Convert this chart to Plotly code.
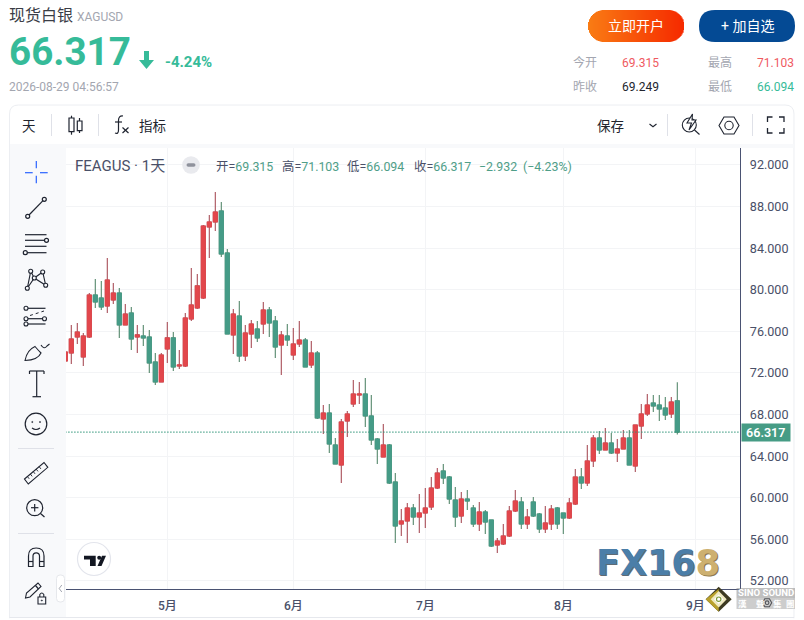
import re, math
import plotly.graph_objects as go

# ---------- data ----------
opens = [73.15,73.92,75.46,73.54,75.46,79.50,79.21,78.44,79.02,79.69,76.62,77.77,75.46,75.56,75.46,73.06,71.14,74.31,75.37,72.67,72.67,77.19,78.25,79.21,86.04,86.52,87.58,83.54,75.66,77.48,73.63,75.75,76.23,76.71,78.06,77.00,74.69,75.56,73.73,74.79,75.17,72.77,73.92,67.58,68.15,65.08,63.15,67.38,69.02,69.88,69.98,67.87,65.65,63.92,65.08,61.52,57.48,57.77,59.02,58.15,58.54,59.12,60.94,62.58,62.00,59.79,58.25,59.88,59.02,57.48,58.64,57.87,55.46,55.56,56.33,58.73,59.60,57.48,59.60,58.44,57.00,57.48,59.02,58.54,58.06,59.40,62.00,61.42,63.54,65.75,64.60,65.27,64.31,64.69,65.75,63.06,66.90,68.06,69.11,68.92,68.63,68.06,69.315]
closes = [74.02,75.27,75.94,75.56,79.50,78.83,78.35,80.94,79.69,76.62,77.67,75.27,75.66,75.37,72.96,71.14,73.73,75.37,72.58,72.77,77.29,78.54,80.37,86.13,86.52,87.48,83.44,75.75,77.67,73.63,75.85,76.71,75.37,78.06,76.81,74.50,75.65,75.17,74.79,75.17,72.58,73.92,67.67,68.15,65.17,63.25,67.29,68.06,69.98,69.98,67.87,65.56,64.69,65.08,61.42,57.29,57.77,59.02,58.15,58.54,59.02,60.94,62.38,61.90,59.88,58.15,59.88,59.69,57.48,58.64,57.67,55.36,55.85,56.33,58.73,59.69,57.48,58.15,58.25,57.00,57.58,58.92,57.48,58.06,59.50,62.00,61.42,63.54,65.75,64.60,65.27,64.31,64.69,65.75,63.15,67.00,68.06,68.92,68.83,68.54,67.96,69.21,66.317]
highs = [74.02,76.62,76.81,75.85,79.69,81.04,80.85,83.06,80.65,80.17,78.63,78.35,76.62,76.62,76.13,73.92,73.92,76.90,75.94,74.21,77.77,82.10,81.52,86.23,87.19,89.40,88.44,83.92,78.15,78.92,76.61,77.10,77.00,78.83,78.35,77.48,76.04,76.71,76.33,77.00,75.37,75.08,74.11,68.92,69.02,65.75,67.58,68.35,71.33,71.13,71.52,69.88,65.75,67.10,65.17,62.38,58.92,59.50,59.40,60.37,60.94,62.00,62.87,63.25,62.10,61.04,60.56,60.75,59.31,59.60,58.83,57.87,56.14,57.48,59.21,60.75,60.08,58.92,60.08,58.54,59.21,59.31,59.12,58.54,59.98,62.77,62.87,65.08,66.04,66.42,66.71,66.23,65.65,66.52,66.52,67.00,69.02,69.98,69.88,69.88,69.69,69.69,71.103]
lows = [73.15,72.87,74.79,72.67,75.37,78.25,78.06,77.77,78.63,75.37,76.62,74.21,73.92,74.60,72.00,70.85,71.14,72.96,72.19,72.39,72.58,77.00,78.15,79.12,83.06,85.66,83.15,75.75,73.83,73.06,73.15,74.40,74.98,75.75,75.46,73.44,71.81,74.60,73.25,74.50,72.58,72.48,67.58,66.13,64.31,63.25,61.42,65.85,68.73,69.02,66.81,65.08,63.25,63.92,61.33,55.65,56.33,55.65,57.39,56.62,57.10,58.83,60.85,61.33,59.40,57.19,57.58,58.83,57.19,56.81,56.52,55.27,54.69,55.46,56.23,58.64,57.00,57.00,58.15,56.62,56.62,56.90,57.00,56.52,57.96,59.31,60.85,61.13,62.96,64.21,64.60,64.21,63.44,64.69,63.15,62.48,65.65,67.87,68.25,67.38,67.48,67.67,66.094]
prev_close = 69.249
change_pct = -4.24
change_abs = -2.932
change_pct_legend = -4.23
timestamp = "2026-08-29 04:56:57"
y_ticks = [92, 88, 84, 80, 76, 72, 68, 64, 60, 56, 52]
month_ticks = [17, 38, 60, 83, 105]
month_labels = ["5月", "6月", "7月", "8月", "9月"]
# --------------------------------------------------

W, H = 804, 620
TXT = "Roboto, 'Noto Sans CJK SC', sans-serif"
RED, GREEN = "#e2474c", "#459b87"
HEAD_GREEN = "#36bb99"
DARK = "#20232e"
LINE = "#1f2430"

def X(v): return v / W
def Y(v): return 1 - v / H

shapes, notes = [], []

def add_path(d, fill="rgba(0,0,0,0)", color="rgba(0,0,0,0)", w=0, layer="above", dash=None):
    toks = d.split()
    out, i = [], 0
    for t in toks:
        if re.fullmatch(r"[A-Za-z]", t):
            out.append(t)
            i = 0
        else:
            out.append(f"{X(float(t)):.6f}" if i % 2 == 0 else f"{Y(float(t)):.6f}")
            i += 1
    ln = dict(color=color, width=w)
    if dash: ln["dash"] = dash
    shapes.append(dict(type="path", xref="paper", yref="paper", path=" ".join(out),
                       fillcolor=fill, line=ln, layer=layer))

def seg(x0, y0, x1, y1, color=LINE, w=1.2, layer="above", dash=None):
    add_path(f"M {x0} {y0} L {x1} {y1}", color=color, w=w, layer=layer, dash=dash)

def rect(x0, y0, x1, y1, fill, color="rgba(0,0,0,0)", w=0, layer="above"):
    shapes.append(dict(type="rect", xref="paper", yref="paper", x0=X(x0), x1=X(x1), y0=Y(y0), y1=Y(y1),
                       fillcolor=fill, line=dict(color=color, width=w), layer=layer))

def circ(cx, cy, r, fill="rgba(0,0,0,0)", color=LINE, w=1.2, layer="above"):
    shapes.append(dict(type="circle", xref="paper", yref="paper", x0=X(cx - r), x1=X(cx + r),
                       y0=Y(cy - r), y1=Y(cy + r), fillcolor=fill, line=dict(color=color, width=w), layer=layer))

def rrect(x0, y0, x1, y1, r, fill, color="rgba(0,0,0,0)", w=0, layer="above"):
    add_path(f"M {x0+r} {y0} L {x1-r} {y0} Q {x1} {y0} {x1} {y0+r} L {x1} {y1-r} Q {x1} {y1} {x1-r} {y1} "
             f"L {x0+r} {y1} Q {x0} {y1} {x0} {y1-r} L {x0} {y0+r} Q {x0} {y0} {x0+r} {y0} Z",
             fill=fill, color=color, w=w, layer=layer)

def text(x, y, s, size=12, color=DARK, anchor="left", weight=400, family=TXT):
    xx = x - 1 if anchor == "left" else x
    notes.append(dict(xref="paper", yref="paper", x=X(xx), y=Y(y), text=s, showarrow=False,
                      xanchor=anchor, yanchor="middle", borderpad=0,
                      font=dict(size=size, color=color, family=family, weight=weight)))

# ---- panel ----
rrect(9.5, 105, 794, 650, 9, "#ffffff", "#eceef2", 1, layer="below")
rect(10, 144, 793.5, 148, "#f8f9fb", layer="below")
rect(10, 148, 66, 617, "#f8f9fb", layer="below")
seg(9.5, 617.6, 794, 617.6, "#e4e6ec", 1, layer="below")
rect(0, 618.2, 804, 620, "#ffffff", layer="above")

# ---- header ----
text(9, 16, "现货白银", 16, "#3a3d46")
text(77, 17, "XAGUSD", 12, "#a3a6b0")
text(9, 52, f"{closes[-1]:.3f}", 38.6, HEAD_GREEN, weight=700)
text(165, 62, f"{change_pct:.2f}%", 15, HEAD_GREEN, weight=700)
text(9, 87, timestamp, 12, "#a3a6b0")
add_path("M 144 51 L 149 51 L 149 60 L 154 60 L 146.5 69 L 139 60 L 144 60 Z", fill=HEAD_GREEN)

# gradient button, built from thin columns
x0b, x1b, rb, ycb = 588, 684, 16, 26
for i in range(x1b - x0b):
    cx = x0b + i + 0.5
    dx = max(x0b + rb - cx, cx - (x1b - rb), 0)
    h = math.sqrt(max(rb * rb - dx * dx, 0))
    t = i / (x1b - x0b - 1)
    col = "rgb(%d,%d,%d)" % (250 - 4 * t, 124 - 82 * t, 20 - 20 * t)
    rect(x0b + i, ycb - h, x0b + i + (1.6 if i < x1b - x0b - 1 else 1), ycb + h, col)
text(636, 26, "立即开户", 14, "#ffffff", "center")
rrect(699, 10, 795, 42, 16, "#044a94")
text(747, 26, "+ 加自选", 14, "#ffffff", "center")

for xa, xb, yy, a, b, cb in [(573, 622, 63, "今开", opens[-1], "#ef5a5f"),
                             (708, 757, 63, "最高", highs[-1], "#ef5a5f"),
                             (573, 622, 87, "昨收", prev_close, "#22252e"),
                             (708, 757, 87, "最低", lows[-1], HEAD_GREEN)]:
    text(xa, yy, a, 12, "#a3a6b0")
    text(xb, yy, f"{b:.3f}", 12, cb)

# ---- top toolbar ----
text(22, 126, "天", 13.5, "#22252e")
text(139, 126, "指标", 13.5, "#22252e")
text(597, 126, "保存", 13.5, "#22252e")
for xs in (51.5, 98.5, 667.5, 752.5):
    seg(xs, 114, xs, 136, "#dfe1e8", 1)
# candle icon
seg(71.5, 115.7, 71.5, 134.7)
rect(69, 118, 74, 131.7, "#ffffff", LINE, 1.2)
seg(79.5, 118, 79.5, 133)
rect(77.3, 121, 82, 130.7, "#ffffff", LINE, 1.2)
# fx icon
add_path("M 123 116 Q 118.5 115.5 118.5 120.5 L 118.5 130 Q 118.5 134.5 115 133", color=LINE, w=1.2)
seg(115, 122, 122, 122)
seg(122.5, 127.5, 128.5, 133)
seg(128.5, 127.5, 122.5, 133)
# chevron
add_path("M 649.5 124 L 653 126.7 L 656.5 124", color=LINE, w=1.1)
# bolt magnifier
circ(689.3, 125, 7, w=1.1)
seg(694.5, 130, 699.5, 134.5, w=1.1)
add_path("M 692.5 114 L 687 123 L 691.5 123 L 689 130 L 696 120 L 692 120 Z", fill="#ffffff", color=LINE, w=1.1)
# hexagon
add_path("M 719 125.5 L 724 117 L 734 117 L 739 125.5 L 734 134 L 724 134 Z", color=LINE, w=1.1)
circ(729, 125.5, 4.2, w=1.1)
# fullscreen
for d in ("M 767.5 122 L 767.5 117 L 772.5 117", "M 779 117 L 784 117 L 784 122",
          "M 767.5 128 L 767.5 133 L 772.5 133", "M 779 133 L 784 133 L 784 128"):
    add_path(d, color=LINE, w=1.3)

# ---- left tool column ----
B = "#2962ff"
seg(25, 172.7, 32.7, 172.7, B, 1.2); seg(40, 172.7, 47.7, 172.7, B, 1.2)
seg(36.3, 161, 36.3, 168.3, B, 1.2); seg(36.3, 175.7, 36.3, 183.3, B, 1.2)
# trend line
seg(29, 215, 43, 200.6); circ(27.7, 216.3, 2); circ(44.3, 199.3, 2)
# parallel
for yy in (234.7, 240.3, 246.3, 252.7):
    seg(25, yy, 46.5, yy)
circ(46.5, 240.3, 2, "#f8f9fb"); circ(25.3, 252.7, 2, "#f8f9fb")
# xabcd
add_path("M 27.3 288.3 L 30.7 271.3 L 34.3 278 L 45.7 285.3 L 42.7 272 L 34.3 278 L 27.3 288.3", color=LINE, w=1.1)
for cx, cy in ((27.3, 288.3), (30.7, 271.3), (34.3, 278), (42.7, 272), (45.7, 285.3)):
    circ(cx, cy, 2, "#f8f9fb", w=1.1)
# fib
seg(27, 308.3, 45.5, 308.3); seg(27, 324, 45.5, 324); seg(27, 318.7, 44, 318.7)
seg(30, 315.5, 44, 311, w=1, dash="dot")
for cx, cy in ((26, 308.3), (26, 318.7), (26, 324), (44.5, 318.7)):
    circ(cx, cy, 2, "#f8f9fb", w=1.1)
# brush
add_path("M 25 360.5 Q 27 350 35 346.5 Q 38 350 41 353 Q 38 360 25 360.5 Z", color=LINE, w=1.1)
add_path("M 41 345 Q 44 350 47 346 L 49.5 344", color=LINE, w=1.1)
# T
seg(29.5, 371, 44, 371); seg(36.7, 371, 36.7, 396.7); seg(32.5, 396.7, 41, 396.7)
seg(29.5, 371, 29.5, 374); seg(44, 371, 44, 374)
# smile
circ(36, 424, 10.8)
circ(32.3, 422, 0.6, LINE, w=0.6); circ(40, 422, 0.6, LINE, w=0.6)
add_path("M 32 428 Q 36 431 40 428", color=LINE, w=1.1)
seg(18, 448.5, 54, 448.5, "#dfe1e8", 1)
# ruler
add_path("M 24.5 479 L 44 462.5 L 47.8 467.3 L 28.3 484 Z", color=LINE, w=1.1)
for a in (0.15, 0.3, 0.45, 0.6, 0.75):
    bx, by = 24.5 + 19.5 * a, 479 - 16.5 * a
    seg(bx, by, bx + 1.8, by + 2.3, w=0.9)
# magnifier
circ(34.7, 507.7, 8)
seg(40.5, 513.5, 44.5, 517)
seg(31, 507.7, 38.4, 507.7); seg(34.7, 504, 34.7, 511.4)
seg(18, 533.5, 54, 533.5, "#dfe1e8", 1)
# magnet
add_path("M 28.5 566.5 L 28.5 556 Q 28.5 548 36.2 548 Q 44 548 44 556 L 44 566.5 L 39.5 566.5 L 39.5 556 "
         "Q 39.5 552.8 36.2 552.8 Q 33 552.8 33 556 L 33 566.5 Z", color=LINE, w=1.2)
seg(28.5, 561.5, 33, 561.5); seg(39.5, 561.5, 44, 561.5)
# pencil + lock
add_path("M 25.5 598 L 26.5 593 L 38 583 L 41 586.5 L 30 597 Z", color=LINE, w=1.1)
seg(35.5, 585.5, 38.5, 589)
rect(38, 597, 45.7, 604, "#f8f9fb", LINE, 1.1)
add_path("M 39.8 597 L 39.8 594.5 Q 41.8 591.5 43.8 594.5 L 43.8 597", color=LINE, w=1.1)
circ(41.8, 600.5, 0.6, LINE, w=0.6)
# collapse handle
rrect(56.5, 575, 64.5, 602, 3.5, "#ffffff", "#e6e8ec", 1)
add_path("M 61.8 585 L 59.2 588.5 L 61.8 592", color="#a3a6b0", w=1)

# ---- chart legend row ----
LEG = "#4a5068"
VAL = "#4f9e88"
text(75, 166, "FEAGUS · 1天", 15, LEG)
circ(191, 165, 8.8, "#e9eaee", "#e9eaee", 0)
rrect(186.5, 163.2, 195.5, 166.8, 1.8, "#8f929c")
for xp, lab, v in [(216, "开", opens[-1]), (281.5, "高", highs[-1]), (347, "低", lows[-1]), (414, "收", closes[-1])]:
    text(xp, 166, f'{lab}=<span style="color:{VAL}">{v:.3f}</span>', 12.4, LEG)
text(478.5, 166, f"−{abs(change_abs):.3f}", 12.4, VAL)
text(522.5, 166, f"(−{abs(change_pct_legend):.2f}%)", 12.4, VAL)

# ---- TradingView badge ----
circ(94, 559, 16.5, "#ffffff", "#e3e5ec", 1.2)
add_path("M 84 555.7 L 95.7 555.7 L 95.7 566 L 90 566 L 90 559.5 L 84 559.5 Z", fill="#131722")
circ(99.2, 557.7, 2, "#131722", "#131722", 0)
add_path("M 97.5 566 L 102 555.7 L 106 555.7 L 101.5 566 Z", fill="#131722")

# ---- watermarks ----
WF = "'DejaVu Sans', sans-serif"
def fx(x, y, c1, c2):
    text(x, y, f'<span style="color:{c1}">FX16</span><span style="color:{c2}">8</span>', 35, c1, weight=700, family=WF)
fx(596.7, 563.7, "#5f6b74", "#8d7a4f")
fx(595.5, 562.5, "#4b7ea8", "#cdb070")
# diamond
add_path("M 718.7 586.7 L 731.7 599.2 L 718.7 611.7 L 705.7 599.2 Z", fill="#3d3a22")
add_path("M 718.7 589 L 705.7 599.2 L 718.7 611.7 Z", fill="#b9a12c")
add_path("M 718.7 591 L 726.7 599.2 L 718.7 607.4 L 710.7 599.2 Z", fill="#efe9c0")
add_path("M 718.7 594.5 L 723.4 599.2 L 718.7 603.9 L 714 599.2 Z", fill="#ffffff")
circ(718.7, 599.2, 2.2, "#ffffff", "#7d9a3a", 1.2)
# gear and sino sound
add_path("M 762.5 602.7 L 764.8 598.7 L 769.4 598.7 L 771.7 602.7 L 769.4 606.7 L 764.8 606.7 Z", color="#33363f", w=1.1)
circ(767.1, 602.7, 1.8, color="#33363f", w=1.1)
rect(736.5, 588, 795, 598.5, "rgba(130,130,130,0.5)")
rect(736.5, 598.5, 795, 609, "rgba(130,130,130,0.4)")
text(738, 592.5, "SINO SOUND", 9.6, "#ffffff", weight=700)
for xc, ch in zip((738, 756, 773, 786), "漢聲集團"):
    text(xc, 604, ch, 8.5, "#ffffff", weight=700)

# ---- price tag ----
notes.append(dict(xref="paper", yref="y", x=X(740.7), y=closes[-1], text=f"{closes[-1]:.3f}", showarrow=False,
                  xanchor="left", yanchor="middle", bgcolor="#469c85", width=47.5, height=17, borderpad=0,
                  align="center", font=dict(size=12.5, color="#ffffff", family=TXT, weight=600)))
shapes.append(dict(type="line", xref="x", yref="y", x0=0, x1=112.5, y0=closes[-1], y1=closes[-1],
                   line=dict(color="#2f9478", width=1.3, dash="1.2px 1.8px"), layer="above"))

# ---- candles ----
n = len(closes)
idx = list(range(n))
assert len(opens) == len(highs) == len(lows) == n
fig = go.Figure()
fig.add_trace(go.Candlestick(x=idx, open=opens, high=highs, low=lows, close=closes,
    increasing=dict(line=dict(color="#a84e58", width=1.1), fillcolor=RED),
    decreasing=dict(line=dict(color="#55886c", width=1.1), fillcolor=GREEN),
    showlegend=False, hoverinfo="skip"))
fig.add_trace(go.Candlestick(x=idx, open=opens, close=closes,
    high=[max(a, b) for a, b in zip(opens, closes)], low=[min(a, b) for a, b in zip(opens, closes)],
    increasing=dict(line=dict(color=RED, width=1), fillcolor=RED),
    decreasing=dict(line=dict(color=GREEN, width=1), fillcolor=GREEN),
    showlegend=False, hoverinfo="skip"))

AX = "#4a5272"
fig.update_layout(
    width=W, height=H, margin=dict(l=0, r=0, t=0, b=0), autosize=False,
    paper_bgcolor="#ffffff", plot_bgcolor="rgba(0,0,0,0)",
    boxgap=0.33, boxgroupgap=0, boxmode="overlay", showlegend=False,
    font=dict(family=TXT),
    shapes=shapes, annotations=notes,
    xaxis=dict(domain=[X(66), X(740.3)], range=[0.117, 112.5], tickvals=month_ticks, ticktext=month_labels,
               showgrid=True, gridcolor="#f3f4f6", gridwidth=1, zeroline=False, showline=True, linecolor=AX, linewidth=1,
               ticks="", rangeslider=dict(visible=False), ticklabelstandoff=6,
               tickfont=dict(size=12, color=LEG, family=TXT, weight=500), anchor="y"),
    yaxis=dict(domain=[Y(589), Y(148)], range=[51.23, 93.63], tickvals=y_ticks, tickformat=".3f", side="right",
               showgrid=True, gridcolor="#f3f4f6", gridwidth=1, zeroline=False, showline=True, linecolor=AX, linewidth=1,
               ticks="", ticklabelstandoff=6, tickfont=dict(size=12.6, color=LEG, family=TXT), anchor="x"),
)
fig.write_html("out.html", config=dict(displayModeBar=False),
               post_script="document.body.style.margin='0';document.body.style.overflow='hidden';")
